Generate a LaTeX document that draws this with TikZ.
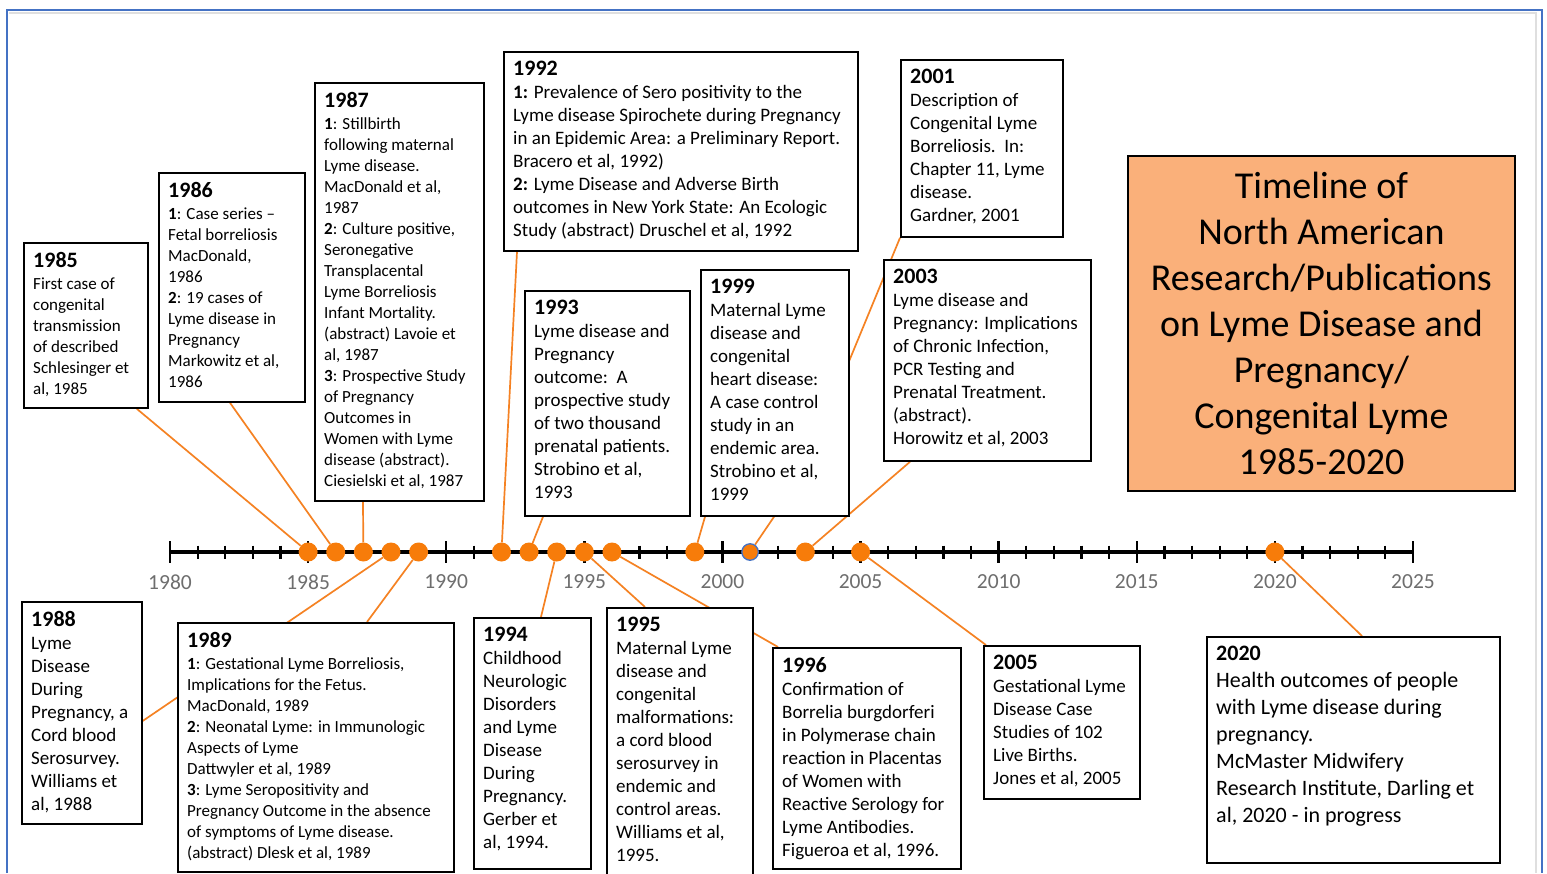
\documentclass[tikz,border=0pt]{standalone}
\usepackage{fontspec}
\setmainfont{Carlito}
\usetikzlibrary{calc}
\definecolor{lor}{RGB}{245,130,35}
\definecolor{dotor}{RGB}{247,124,10}
\definecolor{titlefill}{RGB}{250,176,122}
\definecolor{frameblue}{RGB}{68,114,196}
\definecolor{axgray}{RGB}{110,110,110}
\pgfdeclarelayer{bg}
\pgfsetlayers{bg,main}
\tikzset{
 box/.style={draw=black, line width=1.8pt, fill=white, anchor=north west, inner sep=0pt},
 txt/.style={anchor=north west, align=left, inner sep=0pt, text=black},
 small/.style={font=\fontsize{17}{21}\selectfont},
 mid/.style={font=\fontsize{19}{23}\selectfont},
 big/.style={font=\fontsize{22}{27}\selectfont},
 conn/.style={draw=lor, line width=1.7pt},
 dot/.style={circle, fill=dotor, inner sep=0pt, minimum size=19pt},
 axlab/.style={text=axgray, font=\fontsize{21.5}{24}\selectfont},
 titlebox/.style={draw=black, line width=1.8pt, fill=titlefill, anchor=north west, align=center, inner sep=0pt, font=\fontsize{38}{46}\selectfont},
}
\newcommand\hd[1]{{\fontsize{22}{24}\selectfont\bfseries #1}}
\newcommand\tlbox[7]{%
 \node[box, minimum width=#4pt, minimum height=#5pt] (#1) at (#2,#3) {};
 \node[txt,#6] (#1t) at ([shift={(10pt,-10pt)}]#1.north west) {#7};
}
\begin{document}
\begin{tikzpicture}[x=1pt,y=-1pt]
\useasboundingbox (0,0) rectangle (1547,873);
\clip (0,0) rectangle (1547,873);

% axis
\draw[line width=3.5pt] (170,552) -- (1413,552);
\foreach \i in {0,...,45} {
  \draw[line width=2.2pt] ({170+\i*27.622},545.5) -- ++(0,13);
}
\foreach \i in {0,5,...,45} {
  \draw[line width=2.4pt] ({170+\i*27.622},541) -- ++(0,22);
}
\foreach \y in {1980,1985,...,2025} {
  \node[axlab] (l\y) at ({170+(\y-1980)*27.622},582) {\y};
}
\foreach \y in {1985,1986,1987,1988,1989,1992,1993,1994,1995,1996,1999,2003,2005,2020} {
  \node[dot] (d\y) at ({170+(\y-1980)*27.622},552) {};
}
\node[dot, minimum size=16.5pt, draw=frameblue, line width=1.3pt] (d2001) at ({170+21*27.622},552) {};

% upper boxes
\tlbox{b1985}{23}{242}{124}{165}{small}{\hd{1985}\\[1.5pt]First case of\\congenital\\transmission\\of described\\Schlesinger et\\al, 1985}
\tlbox{b1986}{158}{172}{146}{229}{small}{\hd{1986}\\[1.5pt]\textbf{1}: Case series --\\Fetal borreliosis\\MacDonald,\\1986\\\textbf{2}: 19 cases of\\Lyme disease in\\Pregnancy\\Markowitz et al,\\1986}
\tlbox{b1987}{314}{82}{169}{418}{small}{\hd{1987}\\[1.5pt]\textbf{1}: Stillbirth\\following maternal\\Lyme disease.\\MacDonald et al,\\1987\\\textbf{2}: Culture positive,\\Seronegative\\Transplacental\\Lyme Borreliosis\\Infant Mortality.\\(abstract) Lavoie et\\al, 1987\\\textbf{3}: Prospective Study\\of Pregnancy\\Outcomes in\\Women with Lyme\\disease (abstract).\\Ciesielski et al, 1987}
\tlbox{b1992}{503}{51}{354}{199}{mid}{\hd{1992}\\\textbf{1:} Prevalence of Sero positivity to the\\Lyme disease Spirochete during Pregnancy\\in an Epidemic Area: a Preliminary Report.\\Bracero et al, 1992)\\\textbf{2:} Lyme Disease and Adverse Birth\\outcomes in New York State: An Ecologic\\Study (abstract) Druschel et al, 1992}
\tlbox{b1993}{524}{290}{165}{225}{mid}{\hd{1993}\\Lyme disease and\\Pregnancy\\outcome:\ \ A\\prospective study\\of two thousand\\prenatal patients.\\Strobino et al,\\1993}
\tlbox{b2001}{900}{59}{162}{177}{mid}{\hd{2001}\\Description of\\Congenital Lyme\\Borreliosis.\ \ In:\\Chapter 11, Lyme\\disease.\\Gardner, 2001}
\tlbox{b1999}{700}{269}{148}{246}{mid}{\hd{1999}\\Maternal Lyme\\disease and\\congenital\\heart disease:\\A case control\\study in an\\endemic area.\\Strobino et al,\\1999}
\tlbox{b2003}{883}{259}{207}{201}{mid}{\hd{2003}\\Lyme disease and\\Pregnancy: Implications\\of Chronic Infection,\\PCR Testing and\\Prenatal Treatment.\\(abstract).\\Horowitz et al, 2003}

\node[titlebox, minimum width=387pt, minimum height=335pt] (title) at (1127,155) {Timeline of\\North American\\Research/Publications\\on Lyme Disease and\\Pregnancy/\\Congenital Lyme\\1985-2020};

% lower boxes
\tlbox{b1988}{21}{601}{120}{222}{mid}{\hd{1988}\\Lyme\\Disease\\During\\Pregnancy, a\\Cord blood\\Serosurvey.\\Williams et\\al, 1988}
\tlbox{b1989}{177}{622}{276}{249}{small}{\hd{1989}\\[1.5pt]\textbf{1}: Gestational Lyme Borreliosis,\\Implications for the Fetus.\\MacDonald, 1989\\\textbf{2}: Neonatal Lyme: in Immunologic\\Aspects of Lyme\\Dattwyler et al, 1989\\\textbf{3}: Lyme Seropositivity and\\Pregnancy Outcome in the absence\\of symptoms of Lyme disease.\\(abstract) Dlesk et al, 1989}
\tlbox{b1994}{473}{617}{117}{251}{mid}{\hd{1994}\\Childhood\\Neurologic\\Disorders\\and Lyme\\Disease\\During\\Pregnancy.\\Gerber et\\al, 1994.}
\tlbox{b1995}{606}{607}{146}{290}{mid}{\hd{1995}\\Maternal Lyme\\disease and\\congenital\\malformations:\\a cord blood\\serosurvey in\\endemic and\\control areas.\\Williams et al,\\1995.}
\tlbox{b1996}{772}{647}{188}{221}{mid}{\hd{1996}\\Confirmation of\\Borrelia burgdorferi\\in Polymerase chain\\reaction in Placentas\\of Women with\\Reactive Serology for\\Lyme Antibodies.\\Figueroa et al, 1996.}
\tlbox{b2005}{983}{645}{156}{153}{mid}{\hd{2005}\\Gestational Lyme\\Disease Case\\Studies of 102\\Live Births.\\Jones et al, 2005}
\tlbox{b2020}{1206}{636}{293}{226}{big}{\hd{2020}\\Health outcomes of people\\with Lyme disease during\\pregnancy.\\McMaster Midwifery\\Research Institute, Darling et\\al, 2020 - in progress}

\begin{pgfonlayer}{bg}
  \fill[white] (0,0) rectangle (1547,873);
  \draw[gray!25, line width=2pt] (9,13) -- (1536,13) -- (1536,873);
  \draw[frameblue, line width=2pt] (7,873) -- (7,10) -- (1542,10) -- (1542,873);
  \draw[conn] ([xshift=-12pt]b1985.south east) -- (d1985);
  \draw[conn] ([xshift=72pt]b1986.south west) -- (d1986);
  \draw[conn] ([xshift=49pt]b1987.south west) -- (d1987);
  \draw[conn] ([xshift=14pt]b1992.south west) -- (d1992);
  \draw[conn] ([xshift=19pt]b1993.south west) -- (d1993);
  \draw[conn] ([xshift=5pt]b1999.south west) -- (d1999);
  \draw[conn] (b2001.south west) -- (800,480) -- ([xshift=74pt]b1999.south west) -- (d2001);
  \draw[conn] ([xshift=27pt]b2003.south west) -- (d2003);
  \draw[conn] (d1988) -- ([yshift=-8pt]b1988.east);
  \draw[conn] (d1989) -- ([xshift=190pt]b1989.north west);
  \draw[conn] (d1994) -- ([xshift=68pt]b1994.north west);
  \draw[conn] (d1995) -- ([xshift=39pt]b1995.north west);
  \draw[conn] (d1996) -- ([xshift=6pt]b1996.north west);
  \draw[conn] (d2005) -- ([xshift=3pt]b2005.north west);
  \draw[conn] (d2020) -- ([xshift=156pt]b2020.north west);
\end{pgfonlayer}
\end{tikzpicture}
\end{document}
